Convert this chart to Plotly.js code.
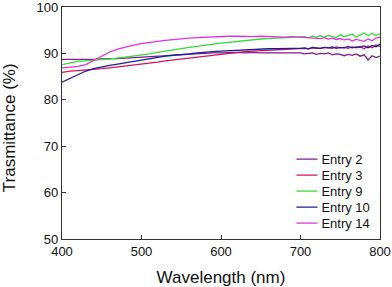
<!DOCTYPE html>
<html><head><meta charset="utf-8">
<script src="https://cdn.plot.ly/plotly-3.0.1.min.js"></script>
<style>body{margin:0;background:#fff}#c{width:392px;height:287px}</style>
</head><body><div id="c"></div>
<script>
const wavelength = [400,410,420,430,440,450,460,470,480,490,500,510,520,530,540,550,560,570,580,590,600,610,620,630,640,650,660,670,680,690,
700,705,710,715,720,725,730,735,740,745,750,755,760,765,770,775,780,785,790,795,800];
const entry2 = [88.7,88.7,88.6,88.7,88.7,88.8,88.8,88.9,89.0,89.1,89.3,89.4,89.5,89.6,89.7,89.8,89.9,90.0,90.1,90.1,90.1,90.2,90.2,90.1,90.2,90.1,90.1,90.0,90.1,90.0,
90.1,89.9,90.0,90.1,89.8,90.0,89.9,90.1,89.7,89.9,89.8,89.5,89.8,89.6,89.9,89.4,89.7,88.6,89.5,89.1,89.4];
const entry3 = [85.9,86.2,86.3,86.4,86.5,86.7,86.9,87.1,87.3,87.4,87.6,87.9,88.1,88.4,88.6,88.9,89.1,89.3,89.5,89.7,89.9,90.1,90.3,90.4,90.5,90.6,90.7,90.8,90.9,90.9,
91.0,91.1,91.0,91.2,91.1,91.1,91.3,91.2,91.1,91.4,91.2,91.3,91.1,91.4,91.2,91.5,91.0,91.6,91.2,91.8,91.5];
const entry9 = [87.6,88.0,88.3,88.4,88.5,88.6,88.8,89.0,89.2,89.4,89.7,89.9,90.2,90.5,90.7,91.0,91.3,91.5,91.8,92.0,92.2,92.4,92.6,92.8,93.0,93.1,93.2,93.3,93.4,93.5,
93.5,93.6,93.4,93.7,93.5,93.8,93.5,93.9,93.6,93.4,94.0,93.6,93.9,94.2,93.5,94.0,94.4,93.8,94.3,93.9,94.2];
const entry10 = [83.8,84.6,85.4,86.2,86.7,87.1,87.4,87.7,88.0,88.3,88.6,88.8,89.1,89.4,89.6,89.7,89.9,90.1,90.3,90.4,90.5,90.6,90.7,90.8,90.9,91.0,91.0,91.0,91.1,91.1,
91.1,91.2,91.0,91.3,91.2,91.1,91.3,91.2,91.4,91.1,91.3,91.2,91.5,91.2,91.4,91.3,91.6,91.2,91.7,91.4,92.0];
const entry14 = [86.9,87.0,87.2,87.6,88.5,89.5,90.3,90.9,91.4,91.8,92.1,92.4,92.6,92.8,93.0,93.1,93.3,93.4,93.5,93.6,93.6,93.7,93.7,93.6,93.6,93.7,93.6,93.6,93.5,93.6,
93.5,93.4,93.5,93.3,93.4,93.2,93.4,93.1,93.3,93.0,93.2,92.9,93.1,92.7,93.0,92.8,92.6,93.1,92.7,93.3,93.5];
const names = ["Entry 2","Entry 3","Entry 9","Entry 10","Entry 14"];
const colors = ["#7f1f8f","#d4145a","#33dd33","#1c1c9c","#e030e0"];
const series = [entry2, entry3, entry9, entry10, entry14];
const xTicks = [400,500,600,700,800];
const yTicks = [50,60,70,80,90,100];

const traces = series.map((s,i)=>({x: wavelength, y: s, name: names[i], type:'scatter', mode:'lines',
  line:{color: colors[i], width:1.3}}));
const fam = 'Arial, "Liberation Sans", sans-serif';
const layout = {
  width:392, height:287,
  margin:{l:62, r:12, t:7, b:48},
  paper_bgcolor:'#fff', plot_bgcolor:'#fff',
  font:{size:13, family:fam, color:'#111'},
  showlegend:true,
  legend:{x:0.69, y:0.409, xanchor:'left', yanchor:'top', bgcolor:'rgba(0,0,0,0)', font:{size:13, family:fam, color:'#111'}, tracegroupgap:0},
  xaxis:{range:[400,800], tickvals:xTicks, ticks:'inside', ticklen:4, tickcolor:'#333',
    showline:true, linecolor:'#333', linewidth:1.2, mirror:true, showgrid:false, zeroline:false,
    tickfont:{size:13, family:fam, color:'#111'}, ticklabeloverflow:'allow',
    title:{text:'Wavelength (nm)', font:{size:17, family:fam, color:'#111'}, standoff:14}},
  yaxis:{range:[50,100], tickvals:yTicks, ticks:'inside', ticklen:4, tickcolor:'#333',
    showline:true, linecolor:'#333', linewidth:1.2, mirror:true, showgrid:false, zeroline:false,
    tickfont:{size:13, family:fam, color:'#111'}, ticklabeloverflow:'allow'},
  annotations:[{text:'Trasmittance (%)', textangle:-90, xref:'paper', yref:'paper', x:-0.165, y:0.48,
    xanchor:'center', yanchor:'middle', showarrow:false, font:{size:17, family:fam, color:'#111'}}]
};
Plotly.newPlot('c', traces, layout, {staticPlot:true, displayModeBar:false}).then(gd=>{
  const items = gd.querySelectorAll('.legend .traces');
  items.forEach((g,i)=>{
    const m = /translate\(([-\d.]+),\s*([-\d.]+)\)/.exec(g.getAttribute('transform')||'');
    if(!m) return;
    if(i===0){ g.dataset.y0 = m[2]; }
    const y0 = parseFloat(items[0].dataset.y0 || m[2]);
    g.setAttribute('transform','translate('+m[1]+','+(y0+16*i)+')');
    const p = g.querySelector('.legendlines path');
    if(p) p.setAttribute('d','M15,0h21');
  });
});
</script></body></html>
